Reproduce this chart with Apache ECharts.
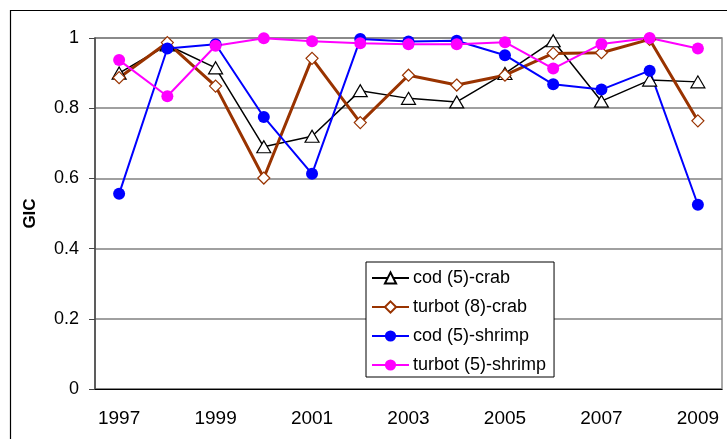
<!DOCTYPE html>
<html>
<head>
<meta charset="utf-8">
<script src="https://cdn.jsdelivr.net/npm/echarts@6/dist/echarts.min.js"></script>
<style>
  html, body { margin: 0; padding: 0; background: #fff; }
  #chart { width: 727px; height: 439px; }
</style>
</head>
<body>
<div id="chart"></div>
<script>
// years on the x axis
const years = ["1997", "1998", "1999", "2000", "2001", "2002", "2003", "2004", "2005", "2006", "2007", "2008", "2009"];

// GIC values
const codCrab = [0.90, 0.98, 0.915, 0.69, 0.72, 0.85, 0.828, 0.818, 0.899, 0.992, 0.82, 0.88, 0.875];
const turbotCrab = [0.887, 0.987, 0.863, 0.601, 0.942, 0.759, 0.894, 0.866, 0.894, 0.956, 0.958, 0.996, 0.764];
const codShrimp = [0.556, 0.970, 0.982, 0.775, 0.613, 0.997, 0.99, 0.992, 0.951, 0.868, 0.853, 0.907, 0.525];
const turbotShrimp = [0.937, 0.834, 0.978, 0.999, 0.991, 0.985, 0.982, 0.982, 0.988, 0.913, 0.983, 1.0, 0.970];

const seriesNames = ["cod (5)-crab", "turbot (8)-crab", "cod (5)-shrimp", "turbot (5)-shrimp"];

const chart = echarts.init(document.getElementById("chart"));

const font = "Liberation Sans, Arial, sans-serif";

const option = {
  animation: false,
  backgroundColor: "#ffffff",
  graphic: [
    {
      type: "rect",
      shape: { x: 10.5, y: 10.5, width: 730, height: 440 },
      style: { fill: "none", stroke: "#000", lineWidth: 1.2 },
      silent: true,
      z: -1,
    },
  ],
  grid: {
    left: 95,
    right: 5,
    top: 38,
    bottom: 50,
    show: true,
    borderColor: "#8c8c8c",
    borderWidth: 1.5,
  },
  legend: {
    orient: "vertical",
    left: 366,
    top: 262,
    backgroundColor: "#ffffff",
    borderColor: "#000",
    borderWidth: 1,
    padding: [7, 8, 3, 5],
    itemWidth: 37,
    itemHeight: 14,
    itemGap: 11,
    textStyle: { color: "#000", fontSize: 18, fontFamily: font, padding: [0, 0, 0, -1] },
    data: seriesNames,
  },
  xAxis: {
    type: "category",
    data: years,
    boundaryGap: true,
    axisLine: { lineStyle: { color: "#000", width: 1.2 } },
    axisTick: { interval: 0, length: 6, lineStyle: { color: "#000" } },
    axisLabel: { interval: 1, color: "#000", fontSize: 19, fontFamily: font, margin: 20 },
    splitLine: { show: false },
  },
  yAxis: {
    type: "value",
    min: 0,
    max: 1,
    interval: 0.2,
    name: "GIC",
    nameLocation: "middle",
    nameGap: 56,
    nameTextStyle: { color: "#000", fontSize: 17, fontWeight: "bold", fontFamily: font },
    axisLine: { show: true, lineStyle: { color: "#444", width: 1.5 } },
    axisTick: { show: true, length: 6, lineStyle: { color: "#444" } },
    axisLabel: { color: "#000", fontSize: 18, fontFamily: font, margin: 16 },
    splitLine: { lineStyle: { color: "#808080", width: 1.5 } },
  },
  series: [
    {
      name: seriesNames[0],
      type: "line",
      data: codCrab,
      symbol: "triangle",
      symbolSize: [14, 12],
      lineStyle: { color: "#000", width: 1.5 },
      itemStyle: { color: "#fff", borderColor: "#000", borderWidth: 1.2 },
    },
    {
      name: seriesNames[1],
      type: "line",
      data: turbotCrab,
      symbol: "diamond",
      symbolSize: 12,
      lineStyle: { color: "#993300", width: 3 },
      itemStyle: { color: "#fff", borderColor: "#993300", borderWidth: 1.2 },
    },
    {
      name: seriesNames[2],
      type: "line",
      data: codShrimp,
      symbol: "circle",
      symbolSize: 12,
      lineStyle: { color: "#0000ff", width: 2 },
      itemStyle: { color: "#0000ff", borderColor: "#0000ff", borderWidth: 0 },
    },
    {
      name: seriesNames[3],
      type: "line",
      data: turbotShrimp,
      symbol: "circle",
      symbolSize: 12,
      lineStyle: { color: "#ff00ff", width: 2 },
      itemStyle: { color: "#ff00ff", borderColor: "#ff00ff", borderWidth: 0 },
    },
  ],
};

chart.setOption(option);
</script>
</body>
</html>
